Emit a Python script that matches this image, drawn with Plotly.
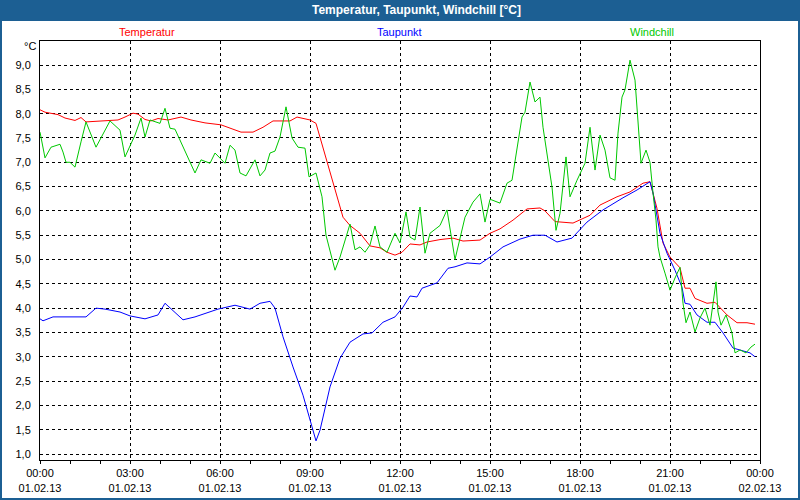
import plotly.graph_objects as go

# time in minutes since 01.02.13 00:00
temp_min = [0, 10, 36, 50, 70, 82, 92, 106, 136, 156, 170, 186, 196, 210, 222, 236, 256, 282, 302, 330,
            362, 382, 402, 426, 446, 466, 500, 514, 540, 552, 566, 580, 594, 606, 620, 640, 660, 680, 694, 710,
            724, 740, 760, 774, 800, 826, 846, 880, 900, 920, 946, 974, 1000, 1010, 1030, 1066, 1100, 1120, 1154, 1180,
            1206, 1220, 1234, 1246, 1260, 1280, 1290, 1300, 1310, 1334, 1350, 1374, 1394, 1414, 1430]
temp_val = [8.08, 8.03, 7.98, 7.91, 7.86, 7.92, 7.83, 7.84, 7.87, 7.87, 7.93, 8.01, 7.99, 7.88, 7.85, 7.90, 7.87, 7.93, 7.87, 7.81,
            7.77, 7.70, 7.62, 7.62, 7.72, 7.85, 7.85, 7.93, 7.87, 7.80, 7.31, 6.78, 6.29, 5.87, 5.70, 5.54, 5.28, 5.24, 5.15, 5.09,
            5.15, 5.32, 5.30, 5.36, 5.41, 5.44, 5.38, 5.40, 5.54, 5.63, 5.81, 6.04, 6.06, 6.00, 5.78, 5.75, 5.91, 6.12, 6.29, 6.39,
            6.57, 6.60, 6.05, 5.34, 5.05, 4.83, 4.41, 4.41, 4.20, 4.10, 4.12, 3.86, 3.70, 3.70, 3.67]

dew_min = [0, 6, 26, 92, 112, 130, 160, 180, 210, 236, 250, 286, 310, 356, 390, 410, 420, 440, 460, 470,
           486, 506, 526, 544, 552, 560, 580, 600, 620, 646, 664, 686, 710, 726, 740, 754, 764, 794, 816, 830,
           854, 880, 900, 926, 960, 986, 1010, 1034, 1064, 1094, 1126, 1166, 1194, 1220, 1226, 1240, 1254, 1270, 1284, 1290,
           1300, 1314, 1334, 1350, 1366, 1386, 1404, 1420, 1430]
dew_val = [3.78, 3.74, 3.82, 3.82, 4.00, 3.98, 3.92, 3.84, 3.78, 3.86, 4.10, 3.76, 3.82, 3.98, 4.06, 4.00, 3.98, 4.10, 4.14, 4.00,
           3.41, 2.79, 2.21, 1.56, 1.27, 1.49, 2.38, 2.97, 3.30, 3.47, 3.49, 3.71, 3.82, 4.02, 4.25, 4.23, 4.41, 4.52, 4.82, 4.85,
           4.93, 4.91, 5.05, 5.26, 5.42, 5.50, 5.50, 5.36, 5.44, 5.77, 6.02, 6.27, 6.43, 6.60, 6.37, 5.54, 5.13, 4.78, 4.43, 4.10,
           4.08, 3.86, 3.71, 3.71, 3.49, 3.18, 3.12, 3.08, 3.00]

wind_min = [0, 10, 22, 40, 46, 52, 60, 70, 82, 92, 112, 140, 160, 170, 190, 202, 210, 220, 240, 246,
            250, 260, 270, 310, 322, 340, 350, 370, 380, 390, 400, 412, 430, 440, 450, 460, 470, 480, 492, 504,
            516, 530, 538, 552, 564, 572, 590, 600, 620, 630, 640, 650, 660, 670, 680, 694, 710, 714, 720, 732,
            740, 750, 760, 770, 780, 800, 814, 830, 850, 866, 880, 890, 900, 920, 934, 944, 956, 964, 970, 980,
            990, 1000, 1006, 1024, 1032, 1040, 1052, 1060, 1074, 1090, 1100, 1110, 1120, 1130, 1140, 1150, 1156, 1164, 1170, 1180,
            1190, 1196, 1202, 1212, 1220, 1226, 1232, 1236, 1240, 1250, 1260, 1270, 1280, 1286, 1292, 1300, 1310, 1320, 1330, 1340,
            1346, 1352, 1356, 1362, 1372, 1384, 1390, 1400, 1412, 1422, 1430]
wind_val = [7.62, 7.09, 7.31, 7.37, 7.21, 7.00, 7.00, 6.90, 7.42, 7.83, 7.31, 7.85, 7.66, 7.11, 7.56, 7.91, 7.52, 7.87, 7.80, 7.97,
            8.11, 7.70, 7.68, 6.78, 7.05, 6.98, 7.19, 6.98, 7.35, 7.25, 6.78, 6.72, 7.05, 6.72, 6.84, 7.19, 7.23, 7.52, 8.14, 7.50,
            7.31, 7.29, 6.70, 6.78, 6.29, 5.50, 4.78, 5.05, 5.73, 5.20, 5.26, 5.15, 5.30, 5.69, 5.26, 5.15, 5.54, 5.46, 5.34, 5.98,
            5.46, 5.40, 6.08, 5.13, 5.54, 5.70, 6.02, 5.00, 5.87, 6.18, 6.35, 5.77, 6.24, 6.16, 6.57, 6.63, 7.46, 7.93, 8.03, 8.65,
            8.24, 8.34, 7.72, 6.49, 5.60, 5.95, 7.11, 6.29, 6.63, 6.98, 7.72, 6.84, 7.56, 7.25, 6.68, 6.63, 7.60, 8.34, 8.49, 9.10,
            8.69, 7.81, 6.98, 7.25, 7.00, 6.37, 5.81, 5.26, 5.05, 4.72, 4.37, 4.62, 4.84, 4.10, 3.70, 3.92, 3.51, 3.80, 4.00, 3.65,
            4.10, 4.54, 3.92, 3.65, 3.86, 3.49, 3.08, 3.14, 3.08, 3.20, 3.26]

x_tick_vals = [0, 180, 360, 540, 720, 900, 1080, 1260, 1440]
x_tick_text = ["00:00<br>01.02.13", "03:00<br>01.02.13", "06:00<br>01.02.13", "09:00<br>01.02.13",
               "12:00<br>01.02.13", "15:00<br>01.02.13", "18:00<br>01.02.13", "21:00<br>01.02.13",
               "00:00<br>02.02.13"]
y_tick_vals = [1.0, 1.5, 2.0, 2.5, 3.0, 3.5, 4.0, 4.5, 5.0, 5.5, 6.0, 6.5, 7.0, 7.5, 8.0, 8.5, 9.0]

series_names = ["Temperatur", "Taupunkt", "Windchill"]
series_colors = ["#ff0000", "#0000ff", "#00c800"]
title_text = "Temperatur, Taupunkt, Windchill [°C]"
frame_blue = "#1c5f93"
FONT = "Liberation Sans"

fig = go.Figure()
for name, xs, ys, col in zip(series_names, [temp_min, dew_min, wind_min], [temp_val, dew_val, wind_val], series_colors):
    fig.add_trace(go.Scatter(x=xs, y=ys, mode="lines", name=name,
                             line=dict(color=col, width=1), showlegend=False))

# geometry (px) of the plot area
L, R, T, B, W, H = 40, 760, 41, 460, 800, 500
def px_x(p):
    return (p - L) / (R - L)
def px_y(p):
    return (B - p) / (B - T)

fig.update_layout(
    width=W, height=H,
    margin=dict(l=L, r=W - R, t=T, b=H - B, pad=0, autoexpand=False),
    paper_bgcolor="white", plot_bgcolor="white",
    separators=",.",
    font=dict(family=FONT, size=11, color="black"),
    xaxis=dict(range=[0, 1440], tickvals=x_tick_vals, ticktext=x_tick_text,
               showgrid=True, gridcolor="black", griddash="3px,3px", gridwidth=1,
               showline=True, mirror=True, linecolor="black", linewidth=1,
               ticks="outside", ticklen=3, tickcolor="black", zeroline=False,
               minor=dict(dtick=60, tick0=0, ticks="outside", ticklen=3, tickcolor="black", showgrid=False),
               tickfont=dict(family=FONT, size=11)),
    yaxis=dict(range=[0.877, 9.494], tickvals=y_tick_vals, tickformat=".1f",
               showgrid=True, gridcolor="black", griddash="3px,3px", gridwidth=1,
               showline=True, mirror=True, linecolor="black", linewidth=1,
               ticks="", zeroline=False, ticklabelstandoff=6,
               tickfont=dict(family=FONT, size=11)),
)

shapes = [
    dict(type="rect", xref="paper", yref="paper", x0=px_x(0), x1=px_x(W), y0=px_y(0), y1=px_y(21),
         fillcolor=frame_blue, line=dict(width=0), layer="above"),
    dict(type="rect", xref="paper", yref="paper", x0=px_x(0), x1=px_x(W), y0=px_y(0), y1=px_y(H),
         fillcolor="rgba(0,0,0,0)", line=dict(color=frame_blue, width=4), layer="above"),
]
fig.update_layout(shapes=shapes)

fig.add_annotation(text=title_text, xref="paper", yref="paper", x=px_x(416), y=px_y(10),
                   showarrow=False, xanchor="center", yanchor="middle",
                   font=dict(family=FONT, size=12, color="white", weight="bold"))
for name, col, cx in zip(series_names, series_colors, [147, 399, 652]):
    fig.add_annotation(text=name, xref="paper", yref="paper", x=px_x(cx), y=px_y(32),
                       showarrow=False, xanchor="center", yanchor="middle",
                       font=dict(family=FONT, size=11, color=col))
fig.add_annotation(text="°C", xref="paper", yref="paper", x=px_x(30), y=px_y(46),
                   showarrow=False, xanchor="center", yanchor="middle",
                   font=dict(family=FONT, size=11, color="black"))

fig.write_html("out.html")
